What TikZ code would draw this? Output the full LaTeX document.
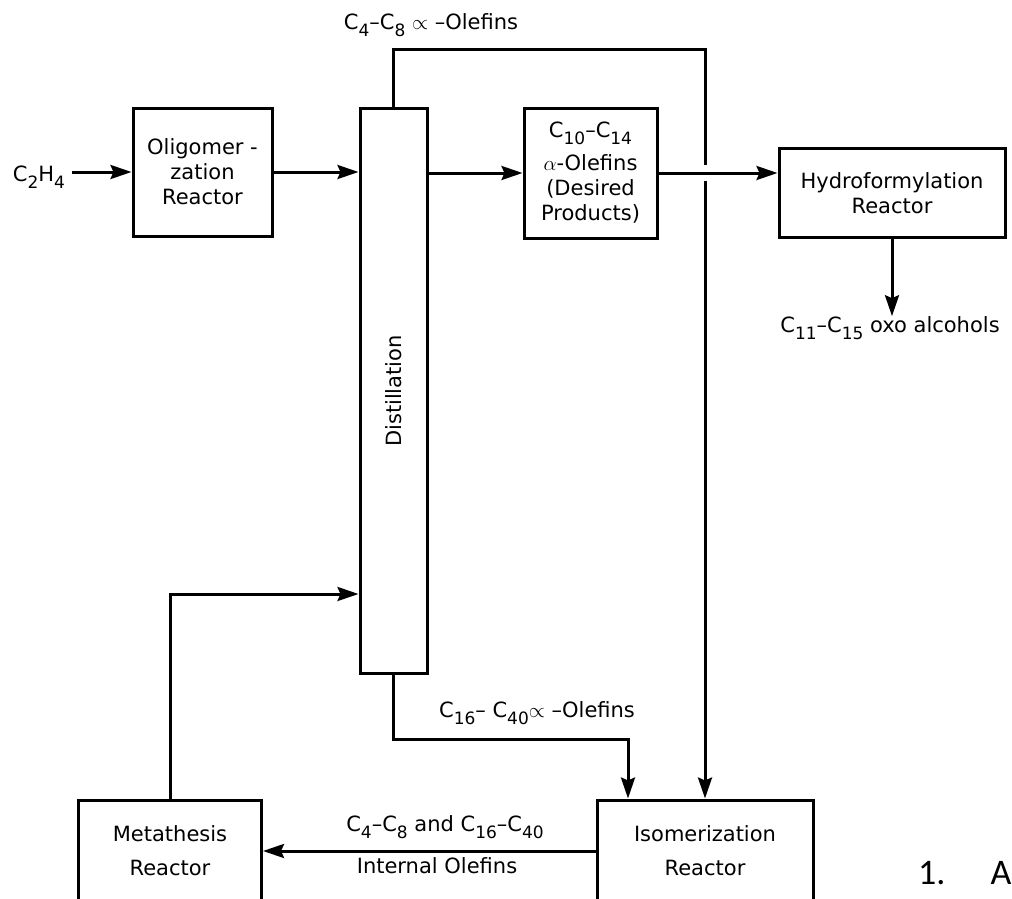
\documentclass[tikz,border=0pt]{standalone}
\usepackage{fontspec}
\setmainfont{DejaVu Sans}
\newfontfamily\slidefont{Carlito}
\usetikzlibrary{positioning,arrows.meta,calc}
\newcommand{\chemsub}[1]{\raisebox{-7pt}{\fontsize{17}{17}\selectfont #1}}
\tikzset{
  unit-box/.style={draw,line width=3pt,align=center,inner sep=0pt,
    font=\fontsize{21}{25}\selectfont},
  stream-label/.style={font=\fontsize{21}{25}\selectfont,inner sep=0pt},
  flow-arrow/.style={-{Stealth[length=21pt,width=14pt,inset=3pt]},line width=3pt},
}

\begin{document}
\begin{tikzpicture}[x=1pt,y=-1pt]
  \path[use as bounding box,clip] (0,0) rectangle (1012,899);
  % process units
  \node[unit-box,minimum width=139pt,minimum height=128pt] (olig) at (202.5,172) {Oligomer -\\zation\\Reactor};
  \node[unit-box,minimum width=67pt,minimum height=565pt] (dist) at (393.5,391) {};
  \node[stream-label,rotate=90] (dist-label) at (dist) {Distillation};
  \node[unit-box,minimum width=133pt,minimum height=130pt] (prod) at (590.5,173) {C\chemsub{10}--C\chemsub{14}\\[8pt]$\alpha$-Olefins\\(Desired\\Products)};
  \node[unit-box,minimum width=226pt,minimum height=89pt] (hydro) at (892,193) {Hydroformylation\\Reactor};
  \node[unit-box,minimum width=183pt,minimum height=102pt] (meta) at (170,851) {Metathesis\\[9pt]Reactor};
  \node[unit-box,minimum width=216pt,minimum height=102pt] (iso) at (705,851) {Isomerization\\[9pt]Reactor};

  % stream labels
  \node[stream-label] (c2h4) at (39,177) {C\chemsub{2}H\chemsub{4}};
  \node[stream-label] (light-cut) at (431,25) {C\chemsub{4}--C\chemsub{8} $\propto$ --Olefins};
  \node[stream-label] (heavy-cut) at (537,713) {C\chemsub{16}-- C\chemsub{40}$\propto$ --Olefins};
  \node[stream-label] (oxo) at (890,328) {C\chemsub{11}--C\chemsub{15} oxo alcohols};
  \node[stream-label] (internal-top) at (445,827) {C\chemsub{4}--C\chemsub{8} and C\chemsub{16}--C\chemsub{40}};
  \node[stream-label] (internal-bot) at (437,866) {Internal Olefins};
  \node[font=\slidefont\fontsize{36}{40}\selectfont,anchor=west,inner sep=0pt] (slide-text) at (918,873) {1.\hspace{45pt}A};

  \coordinate (top-bend) at (0,50);
  \coordinate (bottom-bend) at (628,739);

  % streams
  \draw[flow-arrow] ($(c2h4.east |- olig.west)+(7,0)$) -- (olig.west);
  \draw[flow-arrow] (olig.east) -- (olig.east -| dist.west);
  \draw[flow-arrow] (prod.west -| dist.east) -- (prod.west);
  \draw[flow-arrow] (dist.north) -- (dist.north |- top-bend) -| (iso.north);
  \draw[flow-arrow,preaction={draw=white,line width=16pt,-,shorten <=25pt,shorten >=50pt}] (prod.east) -- (prod.east -| hydro.west);
  \draw[flow-arrow] (hydro.south) -- (hydro.south |- oxo.north);
  \draw[flow-arrow] (dist.south) |- (bottom-bend) -- (bottom-bend |- iso.north);
  \draw[flow-arrow] (iso.west) -- (meta.east);
  \draw[flow-arrow] (meta.north) |- ([yshift=-203pt]dist.west);
\end{tikzpicture}
\end{document}
